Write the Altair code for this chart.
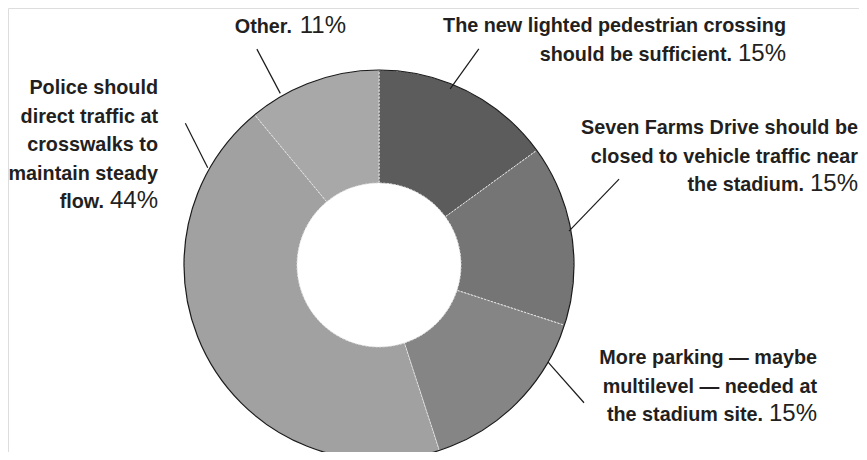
import math
import numpy as np
import pandas as pd
import altair as alt

# ---- data ----
categories = [
    "The new lighted pedestrian crossing should be sufficient.",
    "Seven Farms Drive should be closed to vehicle traffic near the stadium.",
    "More parking — maybe multilevel — needed at the stadium site.",
    "Police should direct traffic at crosswalks to maintain steady flow.",
    "Other.",
]
values = [15, 15, 15, 44, 11]
pct_labels = ["15%", "15%", "15%", "44%", "11%"]
label_lines = [
    ["The new lighted pedestrian crossing", "should be sufficient."],
    ["Seven Farms Drive should be", "closed to vehicle traffic near", "the stadium."],
    ["More parking — maybe", "multilevel — needed at", "the stadium site."],
    ["Police should", "direct traffic at", "crosswalks to", "maintain steady", "flow."],
    ["Other."],
]

# ---- styling / layout ----
colors = ["#5c5c5c", "#757575", "#858585", "#a1a1a1", "#a8a8a8"]
W, H = 851, 444
CX, CY = 371, 257
R_OUT, R_IN = 195, 82
label_right = [778, 850, 809, 150, 338]
label_top_baseline = [24, 126, 356, 86, 25]
LINE_GAP = 28.6
BOLD_SIZE = 19.8
PCT_SIZE = 24
TEXT_COLOR = "#231f20"
# leader lines: (angle deg, radius) at pie end and at label end
leader = [
    (22.0, 190, 24.8, 238),
    (79.9, 193, 70.3, 255),
    (119.9, 195, 123.9, 247),
    (299.6, 197, 306.2, 240),
    (330.1, 198, 330.5, 248),
]

order = list(range(len(values)))
pie_df = pd.DataFrame({"category": categories, "value": values, "order": order})


def polar(a, r):
    t = math.radians(a)
    return CX + r * math.sin(t), CY - r * math.cos(t)


lead_rows = []
for (a1, r1, a2, r2) in leader:
    x1, y1 = polar(a1, r1)
    x2, y2 = polar(a2, r2)
    lead_rows.append({"x": x1, "y": y1, "x2": x2, "y2": y2})
lead_df = pd.DataFrame(lead_rows)


def pct_width(s):
    w = 0
    for ch in s:
        w += 0.889 if ch == "%" else 0.556
    return w * PCT_SIZE


bold_rows, pct_rows = [], []
for i, lines in enumerate(label_lines):
    xr = label_right[i]
    y0 = label_top_baseline[i]
    n = len(lines)
    for j, ln in enumerate(lines):
        y = y0 + j * LINE_GAP
        if j == n - 1:
            pw = pct_width(pct_labels[i])
            pct_rows.append({"x": xr, "y": y, "t": pct_labels[i]})
            bold_rows.append({"x": xr - pw - 6, "y": y, "t": ln})
        else:
            bold_rows.append({"x": xr, "y": y, "t": ln})
bold_df = pd.DataFrame(bold_rows)
pct_df = pd.DataFrame(pct_rows)

xs = alt.Scale(domain=[0, W])
ys = alt.Scale(domain=[H, 0])

donut = alt.Chart(pie_df).mark_arc(
    innerRadius=R_IN, outerRadius=R_OUT, stroke="#e4e4e4", strokeWidth=1, strokeDash=[2, 1.5]
).encode(
    theta=alt.Theta("value:Q", stack=True),
    order=alt.Order("order:Q", sort="ascending"),
    color=alt.Color("category:N", scale=alt.Scale(domain=categories, range=colors), legend=None),
    x=alt.value(CX),
    y=alt.value(CY),
)

ring = alt.Chart(pd.DataFrame({"k": [0]})).mark_arc(
    theta=0, theta2=6.2832, radius=R_OUT, filled=False, stroke="#1a1a1a", strokeWidth=1.2
).encode(x=alt.value(CX), y=alt.value(CY))

lines = alt.Chart(lead_df).mark_rule(color="#1a1a1a", strokeWidth=1.2).encode(
    x=alt.X("x:Q", scale=xs, axis=None),
    y=alt.Y("y:Q", scale=ys, axis=None),
    x2="x2:Q",
    y2="y2:Q",
)

bold_text = alt.Chart(bold_df).mark_text(
    align="right", baseline="alphabetic", font="Liberation Sans",
    fontWeight="bold", fontSize=BOLD_SIZE, color=TEXT_COLOR
).encode(
    x=alt.X("x:Q", scale=xs, axis=None),
    y=alt.Y("y:Q", scale=ys, axis=None),
    text="t:N",
)

pct_text = alt.Chart(pct_df).mark_text(
    align="right", baseline="alphabetic", font="Liberation Sans",
    fontWeight="normal", fontSize=PCT_SIZE, color=TEXT_COLOR
).encode(
    x=alt.X("x:Q", scale=xs, axis=None),
    y=alt.Y("y:Q", scale=ys, axis=None),
    text="t:N",
)

chart = alt.layer(donut, ring, lines, bold_text, pct_text).properties(
    width=W, height=H, padding=0, autosize=alt.AutoSizeParams(type="none")
).configure_view(strokeWidth=0, stroke="transparent").configure_axis(
    domain=False, grid=False, ticks=False, labels=False
).configure(background="white")

chart.save("out.html", embed_options={"renderer": "svg", "actions": False})
